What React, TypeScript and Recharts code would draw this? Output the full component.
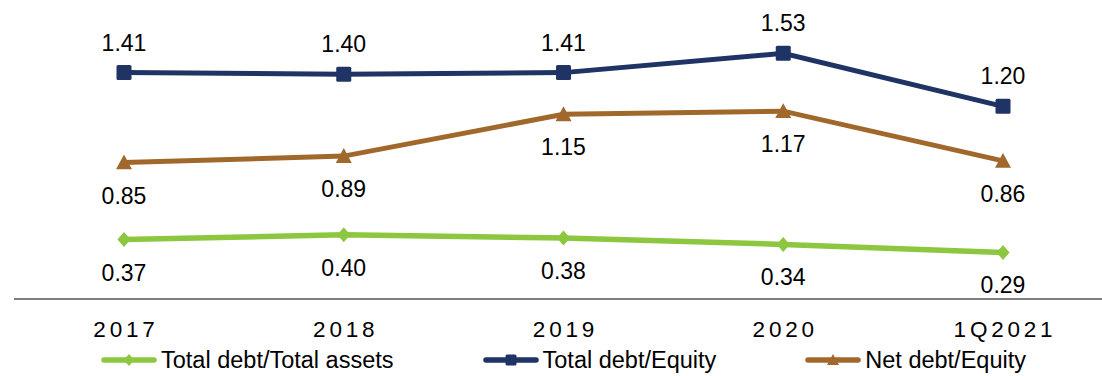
import React from "react";
import { LineChart, Line, XAxis, YAxis } from "recharts";

// Period labels along the x axis
const periods = ["2017", "2018", "2019", "2020", "1Q2021"];

// Leverage ratios per period
const debtToAssets = [0.37, 0.4, 0.38, 0.34, 0.29];
const debtToEquity = [1.41, 1.4, 1.41, 1.53, 1.2];
const netDebtToEquity = [0.85, 0.89, 1.15, 1.17, 0.86];

const rows = periods.map((p, i) => ({
  period: p,
  assets: debtToAssets[i],
  equity: debtToEquity[i],
  net: netDebtToEquity[i],
}));

const GREEN = "#8DC63F";
const NAVY = "#1F3464";
const BROWN = "#A0692B";
const FONT = "'Liberation Sans', Arial, sans-serif";

const Diamond = (props: any) => {
  const { cx, cy, fill, size = 7.5 } = props;
  if (cx == null || cy == null) return null;
  return (
    <path
      d={`M${cx},${cy - size} L${cx + size * 0.87},${cy} L${cx},${cy + size} L${cx - size * 0.87},${cy} Z`}
      fill={fill}
    />
  );
};

const Square = (props: any) => {
  const { cx, cy, fill, size = 7.5 } = props;
  if (cx == null || cy == null) return null;
  return <rect x={cx - size} y={cy - size} width={size * 2} height={size * 2} rx={1.5} fill={fill} />;
};

const Triangle = (props: any) => {
  const { cx, cy, fill, size = 8 } = props;
  if (cx == null || cy == null) return null;
  return (
    <path
      d={`M${cx},${cy - size} L${cx + size},${cy + size * 0.85} L${cx - size},${cy + size * 0.85} Z`}
      fill={fill}
    />
  );
};

const valueLabel = (dy: number) => (props: any) => {
  const { x, y, value } = props;
  return (
    <text
      x={x}
      y={y + dy}
      textAnchor="middle"
      dominantBaseline="central"
      style={{ fontFamily: FONT, fontSize: 23 }}
      fill="#000"
    >
      {Number(value).toFixed(2)}
    </text>
  );
};

const PeriodTick = (props: any) => {
  const { x, y, payload } = props;
  return (
    <text
      x={x + 2}
      y={y + 30}
      textAnchor="middle"
      dominantBaseline="central"
      style={{ fontFamily: FONT, fontSize: 22.5, letterSpacing: 3.8 }}
      fill="#000"
    >
      {payload.value}
    </text>
  );
};

const legendItems = [
  { name: "Total debt/Total assets", color: GREEN, shape: "diamond" },
  { name: "Total debt/Equity", color: NAVY, shape: "square" },
  { name: "Net debt/Equity", color: BROWN, shape: "triangle" },
];

const LegendIcon = ({ color, shape }: { color: string; shape: string }) => (
  <svg width={58} height={16} style={{ display: "block", marginRight: 3 }}>
    <line x1={4} y1={8} x2={54} y2={8} stroke={color} strokeWidth={5.5} strokeLinecap="round" />
    {shape === "diamond" && <Diamond cx={29} cy={8} fill={color} size={6} />}
    {shape === "square" && <Square cx={29} cy={8} fill={color} size={5.5} />}
    {shape === "triangle" && <Triangle cx={29} cy={8} fill={color} size={6} />}
  </svg>
);

const ChartLegend = () => (
  <div
    style={{
      position: "absolute",
      left: 0,
      top: 345,
      width: 1102,
      display: "flex",
      alignItems: "center",
      height: 30,
      paddingLeft: 100,
      boxSizing: "border-box",
      fontFamily: FONT,
      fontSize: 23.5,
      color: "#000",
      whiteSpace: "nowrap",
    }}
  >
    {legendItems.map((it, i) => (
      <div
        key={it.name}
        style={{ display: "flex", alignItems: "center", marginRight: i < 2 ? 88 : 0 }}
      >
        <LegendIcon color={it.color} shape={it.shape} />
        <span>{it.name}</span>
      </div>
    ))}
  </div>
);

export default function App() {
  return (
    <div style={{ position: "absolute", left: 0, top: 0, width: 1102, height: 376, overflow: "hidden", background: "#fff" }}>
      <LineChart
        width={1102}
        height={376}
        data={rows}
        margin={{ top: 10, right: 0, bottom: 76, left: 14 }}
      >
        <XAxis
          dataKey="period"
          scale="point"
          padding={{ left: 110, right: 99 }}
          tickLine={false}
          tickSize={0}
          tickMargin={0}
          height={1}
          axisLine={{ stroke: "#000", strokeWidth: 1.2 }}
          tick={<PeriodTick />}
          interval={0}
        />
        <YAxis hide domain={[0, 1.8]} />
        <Line
          dataKey="assets"
          stroke={GREEN}
          strokeWidth={5.5}
          dot={<Diamond fill={GREEN} />}
          activeDot={false}
          label={valueLabel(33)}
          isAnimationActive={false}
        />
        <Line
          dataKey="equity"
          stroke={NAVY}
          strokeWidth={5}
          dot={<Square fill={NAVY} />}
          activeDot={false}
          label={valueLabel(-30)}
          isAnimationActive={false}
        />
        <Line
          dataKey="net"
          stroke={BROWN}
          strokeWidth={5}
          dot={<Triangle fill={BROWN} />}
          activeDot={false}
          label={valueLabel(33)}
          isAnimationActive={false}
        />
      </LineChart>
      <ChartLegend />
    </div>
  );
}
